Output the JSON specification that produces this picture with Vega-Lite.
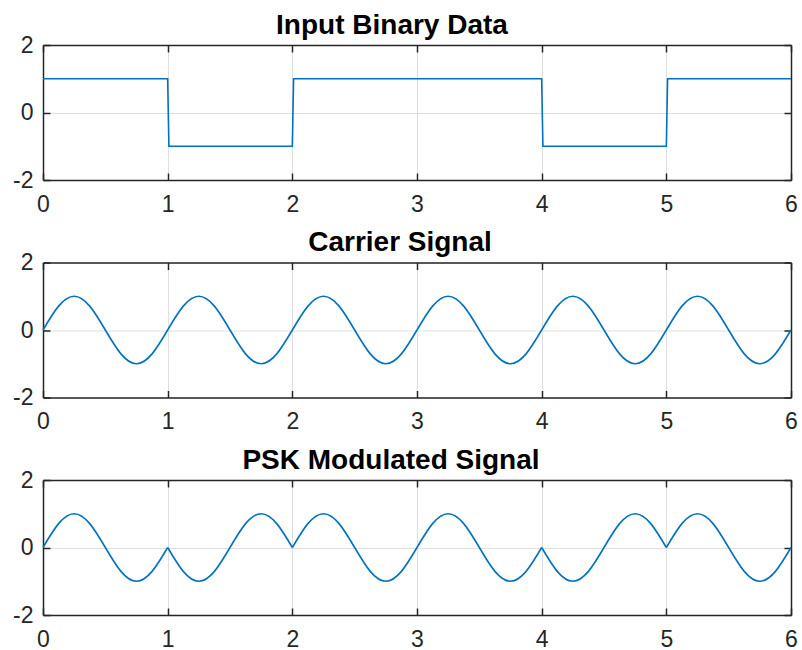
{
  "$schema": "https://vega.github.io/schema/vega-lite/v6.json",
  "padding": {"left": 12, "top": 11, "right": 0, "bottom": 0},
  "background": "white",
  "datasets": {
    "sq": [
      {"t": 0, "v": 1}, {"t": 1, "v": 1}, {"t": 1.01, "v": -1}, {"t": 2, "v": -1}, {"t": 2.01, "v": 1},
      {"t": 4, "v": 1}, {"t": 4.01, "v": -1}, {"t": 5, "v": -1}, {"t": 5.01, "v": 1}, {"t": 6, "v": 1}
    ],
    "car": [
      {"t": 0, "v": 0}, {"t": 0.125, "v": 0.7071}, {"t": 0.25, "v": 1}, {"t": 0.375, "v": 0.7071}, {"t": 0.5, "v": 0}, {"t": 0.625, "v": -0.7071}, {"t": 0.75, "v": -1}, {"t": 0.875, "v": -0.7071},
      {"t": 1, "v": 0}, {"t": 1.125, "v": 0.7071}, {"t": 1.25, "v": 1}, {"t": 1.375, "v": 0.7071}, {"t": 1.5, "v": 0}, {"t": 1.625, "v": -0.7071}, {"t": 1.75, "v": -1}, {"t": 1.875, "v": -0.7071},
      {"t": 2, "v": 0}, {"t": 2.125, "v": 0.7071}, {"t": 2.25, "v": 1}, {"t": 2.375, "v": 0.7071}, {"t": 2.5, "v": 0}, {"t": 2.625, "v": -0.7071}, {"t": 2.75, "v": -1}, {"t": 2.875, "v": -0.7071},
      {"t": 3, "v": 0}, {"t": 3.125, "v": 0.7071}, {"t": 3.25, "v": 1}, {"t": 3.375, "v": 0.7071}, {"t": 3.5, "v": 0}, {"t": 3.625, "v": -0.7071}, {"t": 3.75, "v": -1}, {"t": 3.875, "v": -0.7071},
      {"t": 4, "v": 0}, {"t": 4.125, "v": 0.7071}, {"t": 4.25, "v": 1}, {"t": 4.375, "v": 0.7071}, {"t": 4.5, "v": 0}, {"t": 4.625, "v": -0.7071}, {"t": 4.75, "v": -1}, {"t": 4.875, "v": -0.7071},
      {"t": 5, "v": 0}, {"t": 5.125, "v": 0.7071}, {"t": 5.25, "v": 1}, {"t": 5.375, "v": 0.7071}, {"t": 5.5, "v": 0}, {"t": 5.625, "v": -0.7071}, {"t": 5.75, "v": -1}, {"t": 5.875, "v": -0.7071},
      {"t": 6, "v": 0}
    ],
    "psk": [
      {"s": 1, "t": 0, "v": 0}, {"s": 1, "t": 0.125, "v": 0.7071}, {"s": 1, "t": 0.25, "v": 1}, {"s": 1, "t": 0.375, "v": 0.7071}, {"s": 1, "t": 0.5, "v": 0}, {"s": 1, "t": 0.625, "v": -0.7071}, {"s": 1, "t": 0.75, "v": -1}, {"s": 1, "t": 0.875, "v": -0.7071}, {"s": 1, "t": 1, "v": 0},
      {"s": 2, "t": 1, "v": 0}, {"s": 2, "t": 1.125, "v": -0.7071}, {"s": 2, "t": 1.25, "v": -1}, {"s": 2, "t": 1.375, "v": -0.7071}, {"s": 2, "t": 1.5, "v": 0}, {"s": 2, "t": 1.625, "v": 0.7071}, {"s": 2, "t": 1.75, "v": 1}, {"s": 2, "t": 1.875, "v": 0.7071}, {"s": 2, "t": 2, "v": 0},
      {"s": 3, "t": 2, "v": 0}, {"s": 3, "t": 2.125, "v": 0.7071}, {"s": 3, "t": 2.25, "v": 1}, {"s": 3, "t": 2.375, "v": 0.7071}, {"s": 3, "t": 2.5, "v": 0}, {"s": 3, "t": 2.625, "v": -0.7071}, {"s": 3, "t": 2.75, "v": -1}, {"s": 3, "t": 2.875, "v": -0.7071},
      {"s": 3, "t": 3, "v": 0}, {"s": 3, "t": 3.125, "v": 0.7071}, {"s": 3, "t": 3.25, "v": 1}, {"s": 3, "t": 3.375, "v": 0.7071}, {"s": 3, "t": 3.5, "v": 0}, {"s": 3, "t": 3.625, "v": -0.7071}, {"s": 3, "t": 3.75, "v": -1}, {"s": 3, "t": 3.875, "v": -0.7071}, {"s": 3, "t": 4, "v": 0},
      {"s": 4, "t": 4, "v": 0}, {"s": 4, "t": 4.125, "v": -0.7071}, {"s": 4, "t": 4.25, "v": -1}, {"s": 4, "t": 4.375, "v": -0.7071}, {"s": 4, "t": 4.5, "v": 0}, {"s": 4, "t": 4.625, "v": 0.7071}, {"s": 4, "t": 4.75, "v": 1}, {"s": 4, "t": 4.875, "v": 0.7071}, {"s": 4, "t": 5, "v": 0},
      {"s": 5, "t": 5, "v": 0}, {"s": 5, "t": 5.125, "v": 0.7071}, {"s": 5, "t": 5.25, "v": 1}, {"s": 5, "t": 5.375, "v": 0.7071}, {"s": 5, "t": 5.5, "v": 0}, {"s": 5, "t": 5.625, "v": -0.7071}, {"s": 5, "t": 5.75, "v": -1}, {"s": 5, "t": 5.875, "v": -0.7071}, {"s": 5, "t": 6, "v": 0}
    ]
  },
  "vconcat": [
    {
      "title": {"text": "Input Binary Data", "dx": -25},
      "width": 748, "height": 135,
      "data": {"name": "sq"},
      "layer": [
        {
          "mark": {"type": "line", "color": "#0072BD", "strokeWidth": 1.6, "interpolate": "linear"},
          "encoding": {
            "x": {"field": "t", "type": "quantitative", "scale": {"domain": [0, 6], "nice": false, "zero": false}, "title": null, "axis": {"values": [0, 1, 2, 3, 4, 5, 6], "grid": true}},
            "y": {"field": "v", "type": "quantitative", "scale": {"domain": [-2, 2], "nice": false}, "title": null, "axis": {"values": [-2, 0, 2], "grid": true}}
          }
        },
        {
          "mark": {"type": "line", "opacity": 0},
          "encoding": {
            "x": {"field": "t", "type": "quantitative", "title": null, "axis": {"orient": "top", "values": [0, 1, 2, 3, 4, 5, 6], "labels": false, "grid": false}},
            "y": {"field": "v", "type": "quantitative", "title": null, "axis": {"orient": "right", "values": [-2, 0, 2], "labels": false, "grid": false}}
          }
        }
      ],
      "resolve": {"axis": {"x": "independent", "y": "independent"}}
    },
    {
      "title": {"text": "Carrier Signal", "dx": -17},
      "width": 748, "height": 135,
      "data": {"name": "car"},
      "layer": [
        {
          "mark": {"type": "line", "color": "#0072BD", "strokeWidth": 1.6, "interpolate": "natural"},
          "encoding": {
            "x": {"field": "t", "type": "quantitative", "scale": {"domain": [0, 6], "nice": false, "zero": false}, "title": null, "axis": {"values": [0, 1, 2, 3, 4, 5, 6], "grid": true}},
            "y": {"field": "v", "type": "quantitative", "scale": {"domain": [-2, 2], "nice": false}, "title": null, "axis": {"values": [-2, 0, 2], "grid": true}}
          }
        },
        {
          "mark": {"type": "line", "opacity": 0},
          "encoding": {
            "x": {"field": "t", "type": "quantitative", "title": null, "axis": {"orient": "top", "values": [0, 1, 2, 3, 4, 5, 6], "labels": false, "grid": false}},
            "y": {"field": "v", "type": "quantitative", "title": null, "axis": {"orient": "right", "values": [-2, 0, 2], "labels": false, "grid": false}}
          }
        }
      ],
      "resolve": {"axis": {"x": "independent", "y": "independent"}}
    },
    {
      "title": {"text": "PSK Modulated Signal", "dx": -26},
      "width": 748, "height": 135,
      "data": {"name": "psk"},
      "layer": [
        {
          "mark": {"type": "line", "color": "#0072BD", "strokeWidth": 1.6, "interpolate": "natural"},
          "encoding": {
            "x": {"field": "t", "type": "quantitative", "scale": {"domain": [0, 6], "nice": false, "zero": false}, "title": null, "axis": {"values": [0, 1, 2, 3, 4, 5, 6], "grid": true}},
            "y": {"field": "v", "type": "quantitative", "scale": {"domain": [-2, 2], "nice": false}, "title": null, "axis": {"values": [-2, 0, 2], "grid": true}},
            "detail": {"field": "s", "type": "nominal"}
          }
        },
        {
          "mark": {"type": "line", "opacity": 0},
          "encoding": {
            "x": {"field": "t", "type": "quantitative", "title": null, "axis": {"orient": "top", "values": [0, 1, 2, 3, 4, 5, 6], "labels": false, "grid": false}},
            "y": {"field": "v", "type": "quantitative", "title": null, "axis": {"orient": "right", "values": [-2, 0, 2], "labels": false, "grid": false}},
            "detail": {"field": "s", "type": "nominal"}
          }
        }
      ],
      "resolve": {"axis": {"x": "independent", "y": "independent"}}
    }
  ],
  "spacing": 12.5,
  "config": {
    "font": "Liberation Sans",
    "view": {"stroke": null},
    "axis": {
      "labelFont": "Liberation Sans", "labelFontSize": 23, "labelColor": "#262626",
      "labelFlush": false, "labelOverlap": false, "labelExpr": "'' + datum.value",
      "domainColor": "#262626", "domainWidth": 1.5,
      "tickColor": "#262626", "tickWidth": 1.5, "tickSize": -7,
      "gridColor": "#dfdfdf", "gridWidth": 1, "gridOpacity": 1
    },
    "axisX": {"labelPadding": 20},
    "axisY": {"labelPadding": 17},
    "title": {"font": "Liberation Sans", "fontSize": 28, "fontWeight": "bold", "color": "#000000", "anchor": "middle", "offset": -5.5}
  }
}
